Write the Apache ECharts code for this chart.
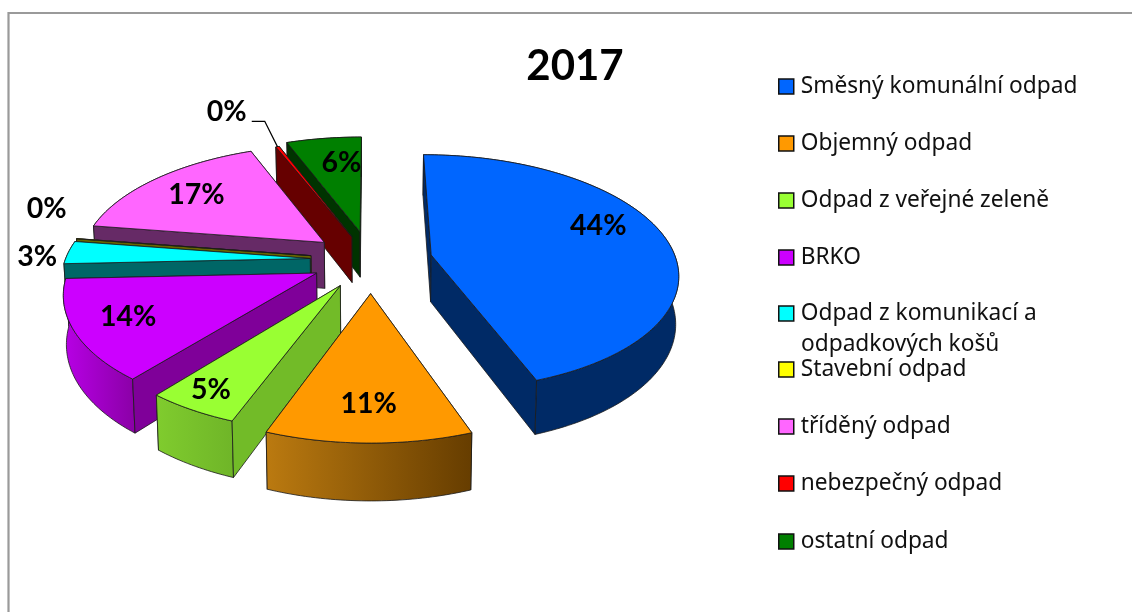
<!DOCTYPE html>
<html><head><meta charset="utf-8">
<style>html,body{margin:0;padding:0;background:#fff}#c{width:1132px;height:612px}</style>
<script src="https://cdn.jsdelivr.net/npm/echarts@6/dist/echarts.min.js"></script>
</head><body><div id="c"></div>
<script>
const titleText = '2017';
const categories = ['Směsný komunální odpad','Objemný odpad','Odpad z veřejné zeleně','BRKO','Odpad z komunikací a odpadkových košů','Stavební odpad','tříděný odpad','nebezpečný odpad','ostatní odpad'];
const values = [44.49,11.2,5.1,13.5,3.1,0.03,16.5,0.27,5.81];
const topColors = ['#0066ff','#ff9900','#99ff33','#cc00ff','#00ffff','#ffff00','#ff66ff','#ff0000','#007f00'];
const wallColors = ['#002a66','#6b4000','#72bb28','#7f0099','#006666','#666600','#662a66','#660000','#003300'];
const arcColors = [['#002a66','#002a66'],['#bb7a10','#663d00'],['#80cc2e','#6fb528'],['#b800e6','#8a00a6'],['#006666','#006666'],['#666600','#666600'],['#662a66','#662a66'],['#660000','#660000'],['#003300','#003300']];
const explosions = [61.5,68,60,60,61,61,61,54,62.5];
const labelPolar = [[0.77,69.8],[0.77,180.5],[0.865,210.6],[0.785,244.2],[1.12,270.8],[1.245,290.2],[0.74,308.2],[1.50,334.6],[0.705,352.6]];
const legendCenters = [85,142,199,256,312,368,425,482,540];

const CX=371, CY=260, K=0.475, P=0.0006, R=245, T=47, SHRINK=0.99;
const FONT='Lato, Carlito, Calibri, sans-serif';
const LEGEND_FONT='"Noto Sans", sans-serif';
const sum = values.reduce((a,b)=>a+b,0);
const rad = d => d*Math.PI/180;
function project(X,Y,down){const s=1/(1-P*Y);return [CX+X*s*(down?SHRINK:1), CY+K*Y*s+(down?T*s:0)];}
let acc=0;
const slices = values.map((v,i)=>{const a0=acc/sum*360;acc+=v;const a1=acc/sum*360;const m=(a0+a1)/2;
  return {i,a0,a1,m,ox:Math.sin(rad(m))*explosions[i],oy:-Math.cos(rad(m))*explosions[i]};});
const order=slices.slice().sort((a,b)=>a.oy-b.oy).map(s=>s.i);

function renderSlice(params,api){
  const sl=slices[order[params.seriesIndex]];
  const i=sl.i, value=api.value(0);
  const polar=(a,r)=>[sl.ox+Math.sin(rad(a))*r, sl.oy-Math.cos(rad(a))*r];
  const steps=Math.max(1,Math.ceil(sl.a1-sl.a0));
  const arcW=[];for(let k=0;k<=steps;k++){arcW.push(polar(sl.a0+(sl.a1-sl.a0)*k/steps,R));}
  const apexW=[sl.ox,sl.oy];
  const pt=(w,d)=>project(w[0],w[1],d);
  const stroke={stroke:'#1a1a1a',lineWidth:0.8,lineJoin:'round'};
  const poly=(pts,fill)=>({type:'polygon',shape:{points:pts},style:Object.assign({fill},stroke)});
  const arcTop=arcW.map(w=>pt(w,false)), arcBot=arcW.map(w=>pt(w,true));
  const wallFor=w=>[pt(apexW,false),pt(w,false),pt(w,true),pt(apexW,true)];
  const grad={type:'linear',x:0,y:0,x2:1,y2:0,colorStops:[{offset:0,color:arcColors[i][0]},{offset:1,color:arcColors[i][1]}]};
  const startFront=-Math.cos(rad(sl.a0-90))>-0.001, endFront=-Math.cos(rad(sl.a1+90))>-0.001;
  const startWall=poly(wallFor(arcW[0]),wallColors[i]), endWall=poly(wallFor(arcW[steps]),wallColors[i]);
  const children=[];
  if(!startFront)children.push(startWall);
  if(!endFront)children.push(endWall);
  children.push(poly(arcTop.concat(arcBot.slice().reverse()),grad));
  if(startFront)children.push(startWall);
  if(endFront)children.push(endWall);
  children.push(poly([pt(apexW,false)].concat(arcTop),topColors[i]));
  const lp=polar(labelPolar[i][1],labelPolar[i][0]*R), lxy=project(lp[0],lp[1],false);
  if(i===7){
    const tip=pt(polar(sl.m,R),false);
    children.push({type:'polyline',shape:{points:[[lxy[0]+25,lxy[1]+9],[lxy[0]+38,lxy[1]+9],tip]},style:{stroke:'#000',lineWidth:1.3,fill:null}});
  }
  children.push({type:'text',style:{x:lxy[0],y:lxy[1],text:Math.round(value)+'%',fontFamily:FONT,fontWeight:'bold',fontSize:28.5,fill:'#000',align:'center',verticalAlign:'middle'}});
  return {type:'group',children};
}

const chart=echarts.init(document.getElementById('c'),null,{renderer:'canvas'});
chart.setOption({
  animation:false,
  backgroundColor:'#fff',
  title:{text:titleText,left:570,top:33,textAlign:'center',textStyle:{fontFamily:FONT,fontWeight:'bold',fontSize:42,color:'#000',lineHeight:56}},
  legend:categories.map((name,i)=>({
    data:[name],left:778,top:legendCenters[i]-12,padding:0,icon:'rect',itemWidth:15,itemHeight:15,selectedMode:false,
    itemStyle:{borderColor:'#111',borderWidth:1.5},
    formatter:n=>n.indexOf(' a odpad')>0?n.split(' odpadkových')[0]:n,
    textStyle:{fontFamily:LEGEND_FONT,fontSize:22.7,color:'#111',lineHeight:24,padding:[3,0,0,2]}
  })),
  graphic:[
    {type:'polyline',shape:{points:[[8.5,612],[8.5,13],[1132,13]]},style:{stroke:'#9a9a9a',lineWidth:2.2,fill:null},silent:true},
    {type:'text',left:801,top:333,style:{text:'odpadkových košů',fontFamily:LEGEND_FONT,fontSize:22.7,fill:'#111'},silent:true}
  ],
  series:order.map(i=>({type:'custom',name:categories[i],coordinateSystem:'none',silent:true,
    itemStyle:{color:topColors[i]},data:[[values[i]]],renderItem:renderSlice}))
});
</script></body></html>
